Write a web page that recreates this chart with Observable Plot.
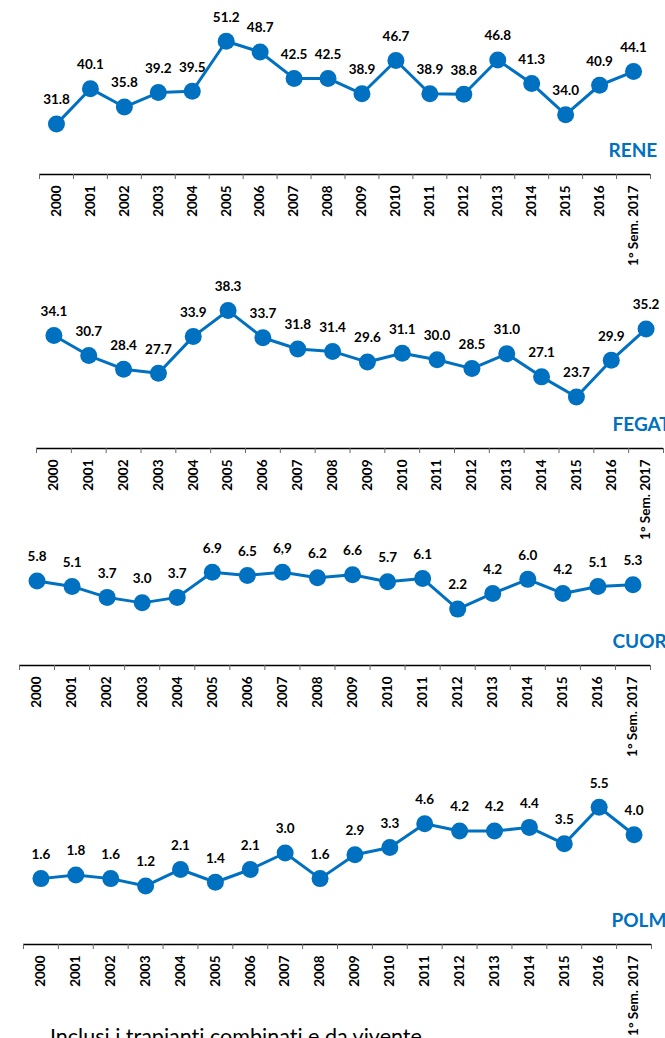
<!DOCTYPE html>
<html>
<head>
<meta charset="utf-8">
<script src="https://cdn.jsdelivr.net/npm/d3@7"></script>
<script src="https://cdn.jsdelivr.net/npm/@observablehq/plot@0.6"></script>
<style>
  html, body { margin: 0; padding: 0; background: #fff; overflow: hidden; }
  #root { position: relative; width: 665px; height: 1038px; overflow: hidden; background: #fff; }
  #note { position: absolute; left: 50px; top: 1026px; font-family: Lato, "Open Sans", sans-serif;
          font-size: 21.5px; line-height: 21.5px; color: #000; white-space: nowrap;
          font-variant-ligatures: none; font-feature-settings: "liga" 0; }
</style>
</head>
<body>
<div id="root"></div>
<script>
const categories = ["2000","2001","2002","2003","2004","2005","2006","2007","2008","2009",
                    "2010","2011","2012","2013","2014","2015","2016","1° Sem. 2017"];
const rene    = [31.8,40.1,35.8,39.2,39.5,51.2,48.7,42.5,42.5,38.9,46.7,38.9,38.8,46.8,41.3,34.0,40.9,44.1];
const fegato  = [34.1,30.7,28.4,27.7,33.9,38.3,33.7,31.8,31.4,29.6,31.1,30.0,28.5,31.0,27.1,23.7,29.9,35.2];
const cuore   = [5.8,5.1,3.7,3.0,3.7,6.9,6.5,6.9,6.2,6.6,5.7,6.1,2.2,4.2,6.0,4.2,5.1,5.3];
const cuoreLabels = ["5.8","5.1","3.7","3.0","3.7","6.9","6.5","6,9","6.2","6.6","5.7","6.1","2.2","4.2","6.0","4.2","5.1","5.3"];
const polmone = [1.6,1.8,1.6,1.2,2.1,1.4,2.1,3.0,1.6,2.9,3.3,4.6,4.2,4.2,4.4,3.5,5.5,4.0];
const organNames = ["RENE","FEGATO","CUORE","POLMONE"];
const footnote = "Inclusi i trapianti combinati e da vivente";

const BLUE = "#0070C0";
const FONT = "Lato, 'Open Sans', sans-serif";
const W = 665, FRAME_H = 180, MB = 110;

function panel(cfg) {
  const data = cfg.values.map((v, i) => ({i, v, label: cfg.labels ? cfg.labels[i] : v.toFixed(1)}));
  const hi = cfg.lo + FRAME_H / cfg.ppu;
  const svg = Plot.plot({
    width: W,
    height: FRAME_H + MB,
    marginTop: 0,
    marginBottom: MB,
    marginLeft: cfg.ml,
    marginRight: cfg.mr,
    style: {background: "transparent", fontFamily: FONT, overflow: "visible"},
    x: {type: "linear", domain: [-0.5, categories.length - 0.5], axis: null, label: null},
    y: {domain: [cfg.lo, hi], axis: null, label: null},
    marks: [
      Plot.ruleY([cfg.lo], {stroke: "#000", strokeWidth: 1.3}),
      Plot.axisX(d3.range(-0.5, categories.length, 1), {
        tickSize: 5, tickFormat: () => "", stroke: "#666", label: null
      }),
      Plot.axisX(d3.range(categories.length), {
        tickSize: 0, tickPadding: 11, tickRotate: -90, label: null,
        tickFormat: i => categories[i],
        fontSize: 13.5, fontWeight: "bold", fill: "#000"
      }),
      Plot.line(data, {x: "i", y: "v", stroke: BLUE, strokeWidth: 3}),
      Plot.dot(data, {x: "i", y: "v", r: 8.5, fill: BLUE, stroke: "none"}),
      Plot.text(data, {x: "i", y: "v", text: "label", dy: -24, fontSize: 13.5,
                       fontWeight: "bold", fill: "#000", lineAnchor: "middle"}),
      Plot.text([cfg.name], {frameAnchor: "bottom-left", textAnchor: "start", lineAnchor: "middle",
                             dx: cfg.nameX - cfg.ml, dy: -24, fontSize: 19, fontWeight: "bold", fill: BLUE})
    ]
  });
  svg.style.position = "absolute";
  svg.style.left = "0px";
  svg.style.top = (cfg.axisY - FRAME_H) + "px";
  svg.style.maxWidth = "none";
  document.getElementById("root").appendChild(svg);
}

panel({values: rene,    name: organNames[0], lo: 20, ppu: 4.27, axisY: 174,   ml: 39, mr: 15, nameX: 608});
panel({values: fegato,  name: organNames[1], lo: 15, ppu: 5.92, axisY: 448,   ml: 36, mr: 2,  nameX: 612});
panel({values: cuore,   name: organNames[2], lo: -5, ppu: 7.83, axisY: 665,   ml: 19, mr: 15, nameX: 612, labels: cuoreLabels});
panel({values: polmone, name: organNames[3], lo: -2, ppu: 18.3, axisY: 943.5, ml: 23, mr: 14, nameX: 611});

const note = document.createElement("div");
note.id = "note";
note.textContent = footnote;
document.getElementById("root").appendChild(note);
</script>
</body>
</html>
